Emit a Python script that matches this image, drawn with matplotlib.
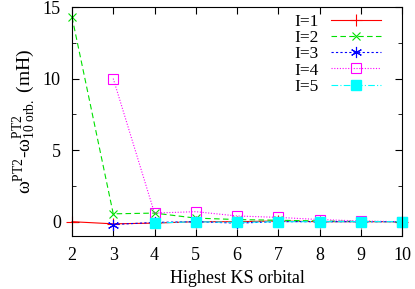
import numpy as np
import matplotlib
matplotlib.use("Agg")
import matplotlib.pyplot as plt
from matplotlib.ticker import MultipleLocator

plt.rcParams['font.family'] = ['Liberation Serif', 'DejaVu Serif']
plt.rcParams['mathtext.fontset'] = 'custom'
plt.rcParams['mathtext.rm'] = 'Liberation Serif'
plt.rcParams['mathtext.it'] = 'Liberation Serif:italic'

x1 = [2, 3, 4, 5, 6, 7, 8, 9, 10]
i1 = [0.0, -0.15, -0.1, 0.0, 0.0, 0.05, 0.0, 0.0, 0.0]
x2 = [2, 3, 4, 5, 6, 7, 8, 9, 10]
i2 = [14.3, 0.55, 0.6, 0.25, 0.15, 0.1, 0.05, 0.02, 0.0]
x3 = [3, 4, 5, 6, 7, 8, 9, 10]
i3 = [-0.2, -0.05, 0.0, -0.1, 0.0, 0.0, 0.0, 0.0]
x4 = [3, 4, 5, 6, 7, 8, 9, 10]
i4 = [10.0, 0.6, 0.7, 0.4, 0.3, 0.15, 0.05, 0.0]
x5 = [4, 5, 6, 7, 8, 9, 10]
i5 = [-0.1, 0.0, -0.05, 0.0, 0.0, 0.0, 0.0]

fig = plt.figure(figsize=(4.15, 2.89), dpi=100)
ax = fig.add_axes([72/415, 1 - 236/289, 330/415, 229/289])

ax.plot(x1, i1, color='red', ls='-', lw=0.8, marker='+', ms=8, mew=0.8, label='I=1', clip_on=False)
ax.plot(x2, i2, color='#00e000', ls=(0, (5, 3)), lw=0.8, marker='x', ms=6, mew=0.8, label='I=2', clip_on=False)
ax.plot(x3, i3, color='blue', ls=(0, (2, 2)), lw=0.8, marker=(6, 2, 0), ms=8, mew=0.8, label='I=3', clip_on=False)
ax.plot(x4, i4, color='magenta', ls=(0, (1, 1.5)), lw=0.8, marker='s', ms=7, mew=0.8, mfc='none', label='I=4', clip_on=False)
ax.plot(x5, i5, color='cyan', ls=(0, (6, 2, 1, 2)), lw=0.8, marker='s', ms=7, label='I=5', clip_on=False)

ax.set_xlim(2, 10)
ax.set_ylim(-1, 15)
ax.set_xticks(range(2, 11))
ax.set_yticks([0, 5, 10, 15])
ax.yaxis.set_minor_locator(MultipleLocator(2.5))
ax.tick_params(direction='in', top=True, right=True, which='both', labelsize=13, pad=8)
ax.tick_params(which='major', length=5)
ax.tick_params(which='minor', length=3)

ax.set_xlabel('Highest KS orbital', fontsize=13)
ax.set_ylabel(r'ω$^{\mathrm{PT2}}$-ω$^{\mathrm{PT2}}_{\mathrm{10\ orb.}}$ (mH)', fontsize=14, labelpad=4)

ax.legend(loc='upper right', bbox_to_anchor=(1 - 14/330, 1), frameon=False, markerfirst=False,
          fontsize=12.5, handlelength=2.9, labelspacing=0.0, borderaxespad=0.0, handletextpad=0.7)

fig.savefig('out.png', dpi=100)
